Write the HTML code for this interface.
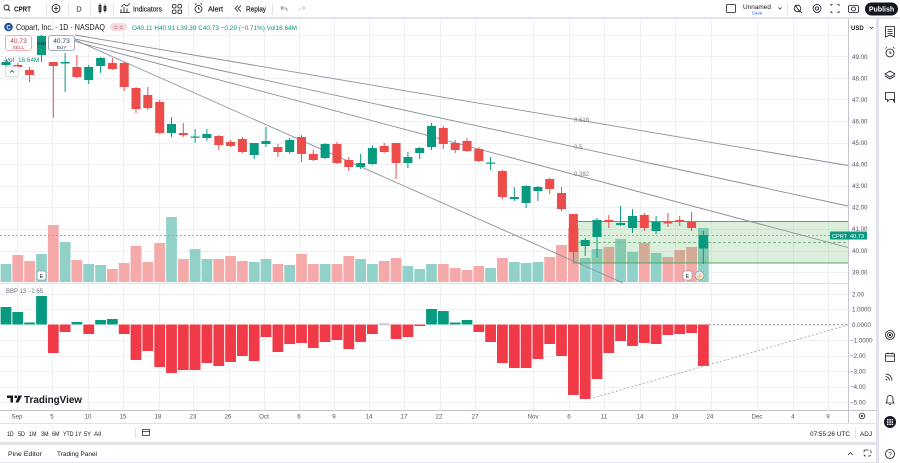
<!DOCTYPE html>
<html><head><meta charset="utf-8">
<style>
html,body{margin:0;padding:0;background:#fff;}
svg{display:block;font-family:"Liberation Sans",sans-serif;}
</style></head><body>
<svg width="900" height="463" viewBox="0 0 900 463" xmlns="http://www.w3.org/2000/svg">
<rect x="0" y="0" width="900" height="463" fill="#fff"/>
<!-- panel gaps -->
<rect x="0" y="17" width="900" height="2" fill="#e0e3eb"/>
<rect x="876" y="19" width="3" height="444" fill="#e0e3eb"/>
<rect x="0" y="442" width="876" height="3" fill="#e0e3eb"/>
<rect x="0" y="462" width="876" height="1" fill="#e0e3eb"/>

<!-- grid -->
<g stroke="#eef0f4" stroke-width="1">
<path d="M0 35.5H848M0 56.5H848M0 78.5H848M0 99.5H848M0 121.5H848M0 143.5H848M0 164.5H848M0 186.5H848M0 207.5H848M0 229.5H848M0 251.5H848M0 272.5H848"/>
<path d="M0 294.5H848M0 309.5H848M0 325.5H848M0 340.5H848M0 356.5H848M0 371.5H848M0 387.5H848M0 402.5H848"/>
<path d="M17.5 19V410M52.5 19V410M88.5 19V410M123.5 19V410M159.5 19V410M193.5 19V410M229.5 19V410M264.5 19V410M299.5 19V410M334.5 19V410M369.5 19V410M404.5 19V410M440.5 19V410M475.5 19V410M533.5 19V410M569.5 19V410M604.5 19V410M640.5 19V410M675.5 19V410M711.5 19V410M757.5 19V410M793.5 19V410M828.5 19V410"/>
</g>

<!-- volume -->
<g fill="#92d1ca">
<rect x="0.6" y="264" width="10.8" height="18"/><rect x="36.1" y="254" width="10.8" height="28"/><rect x="59.7" y="242" width="10.8" height="40"/><rect x="83.3" y="264" width="10.8" height="18"/><rect x="95.2" y="265" width="10.8" height="17"/><rect x="166.1" y="217" width="10.8" height="65"/><rect x="189.7" y="249" width="10.8" height="33"/><rect x="201.5" y="259" width="10.8" height="23"/><rect x="248.8" y="262" width="10.8" height="20"/><rect x="260.6" y="259" width="10.8" height="23"/><rect x="284.3" y="265" width="10.8" height="17"/><rect x="319.7" y="264" width="10.8" height="18"/><rect x="355.2" y="259" width="10.8" height="23"/><rect x="367.0" y="264" width="10.8" height="18"/><rect x="402.5" y="266" width="10.8" height="16"/><rect x="414.3" y="269" width="10.8" height="13"/><rect x="426.1" y="264" width="10.8" height="18"/><rect x="485.2" y="268" width="10.8" height="14"/><rect x="508.9" y="262" width="10.8" height="20"/><rect x="520.7" y="263" width="10.8" height="19"/><rect x="532.5" y="262" width="10.8" height="20"/><rect x="579.8" y="258" width="10.8" height="24"/><rect x="591.6" y="249" width="10.8" height="33"/><rect x="615.2" y="239" width="10.8" height="43"/><rect x="627.1" y="252" width="10.8" height="30"/><rect x="650.7" y="253" width="10.8" height="29"/><rect x="698.0" y="228" width="10.8" height="54"/>
</g>
<g fill="#f5a9a8">
<rect x="12.4" y="255" width="10.8" height="27"/><rect x="24.2" y="261" width="10.8" height="21"/><rect x="47.9" y="225" width="10.8" height="57"/><rect x="71.5" y="260" width="10.8" height="22"/><rect x="107.0" y="269" width="10.8" height="13"/><rect x="118.8" y="263" width="10.8" height="19"/><rect x="130.6" y="246" width="10.8" height="36"/><rect x="142.4" y="262" width="10.8" height="20"/><rect x="154.3" y="243" width="10.8" height="39"/><rect x="177.9" y="259" width="10.8" height="23"/><rect x="213.4" y="259" width="10.8" height="23"/><rect x="225.2" y="256" width="10.8" height="26"/><rect x="237.0" y="261" width="10.8" height="21"/><rect x="272.5" y="264" width="10.8" height="18"/><rect x="296.1" y="254" width="10.8" height="28"/><rect x="307.9" y="264" width="10.8" height="18"/><rect x="331.6" y="264" width="10.8" height="18"/><rect x="343.4" y="256" width="10.8" height="26"/><rect x="378.8" y="261" width="10.8" height="21"/><rect x="390.7" y="258" width="10.8" height="24"/><rect x="437.9" y="264" width="10.8" height="18"/><rect x="449.8" y="268" width="10.8" height="14"/><rect x="461.6" y="270" width="10.8" height="12"/><rect x="473.4" y="266" width="10.8" height="16"/><rect x="497.0" y="258" width="10.8" height="24"/><rect x="544.3" y="257" width="10.8" height="25"/><rect x="556.1" y="245" width="10.8" height="37"/><rect x="568.0" y="228" width="10.8" height="54"/><rect x="603.4" y="247" width="10.8" height="35"/><rect x="638.9" y="243" width="10.8" height="39"/><rect x="662.5" y="257" width="10.8" height="25"/><rect x="674.3" y="250" width="10.8" height="32"/><rect x="686.2" y="247" width="10.8" height="35"/>
</g>

<!-- rectangle drawing -->
<rect x="573.5" y="221.5" width="275" height="41.5" fill="rgba(76,175,80,0.2)" stroke="#5aa862" stroke-width="1"/>
<line x1="573" y1="242.5" x2="848" y2="242.5" stroke="#7fb886" stroke-width="1" stroke-dasharray="3,2"/>
<!-- current price line -->
<line x1="0" y1="235.5" x2="848" y2="235.5" stroke="#a5a8b0" stroke-width="1" stroke-dasharray="2,2"/>

<!-- fan lines -->
<g stroke="#8c8f98" stroke-width="0.9" fill="none">
<line x1="75" y1="35" x2="848" y2="165.5"/>
<line x1="75" y1="39" x2="848" y2="206"/>
<line x1="75" y1="41.5" x2="848" y2="247.5"/>
<line x1="75" y1="40" x2="623" y2="283"/>
</g>
<g font-size="6" fill="#787b86">
<text x="574" y="122">0.618</text>
<text x="574" y="149">0.5</text>
<text x="574" y="176">0.382</text>
</g>

<!-- candles -->
<g fill="#ec4c4a">
<rect x="17.3" y="63" width="1" height="6"/><rect x="13.3" y="65" width="9" height="2"/>
<rect x="29.1" y="67" width="1" height="15"/><rect x="25.1" y="70" width="9" height="5"/>
<rect x="52.8" y="62" width="1" height="56"/><rect x="48.8" y="62" width="9" height="4"/>
<rect x="76.4" y="55" width="1" height="23"/><rect x="72.4" y="67" width="9" height="10"/>
<rect x="111.9" y="58" width="1" height="12"/><rect x="107.9" y="63" width="9" height="6"/>
<rect x="123.7" y="62" width="1" height="29"/><rect x="119.7" y="63" width="9" height="24"/>
<rect x="135.5" y="87" width="1" height="26"/><rect x="131.5" y="88" width="9" height="21"/>
<rect x="147.3" y="87" width="1" height="23"/><rect x="143.3" y="95" width="9" height="13"/>
<rect x="159.2" y="100" width="1" height="34"/><rect x="155.2" y="102" width="9" height="31"/>
<rect x="182.8" y="123" width="1" height="14"/><rect x="178.8" y="133" width="9" height="2"/>
<rect x="218.3" y="135" width="1" height="15"/><rect x="214.3" y="136" width="9" height="9"/>
<rect x="230.1" y="140" width="1" height="7"/><rect x="226.1" y="142" width="9" height="4"/>
<rect x="241.9" y="137" width="1" height="16"/><rect x="237.9" y="139" width="9" height="13"/>
<rect x="277.4" y="144" width="1" height="13"/><rect x="273.4" y="147" width="9" height="5"/>
<rect x="301" y="135" width="1" height="27"/><rect x="297" y="137" width="9" height="17"/>
<rect x="312.8" y="150" width="1" height="11"/><rect x="308.8" y="154" width="9" height="6"/>
<rect x="336.5" y="142" width="1" height="22"/><rect x="332.5" y="144" width="9" height="19"/>
<rect x="348.3" y="157" width="1" height="14"/><rect x="344.3" y="160" width="9" height="7"/>
<rect x="383.7" y="143" width="1" height="10"/><rect x="379.7" y="146" width="9" height="6"/>
<rect x="395.6" y="143" width="1" height="36"/><rect x="391.6" y="143" width="9" height="20"/>
<rect x="442.8" y="126" width="1" height="23"/><rect x="438.8" y="128" width="9" height="16"/>
<rect x="454.7" y="140" width="1" height="13"/><rect x="450.7" y="143" width="9" height="7"/>
<rect x="466.5" y="138" width="1" height="14"/><rect x="462.5" y="141" width="9" height="10"/>
<rect x="478.3" y="147" width="1" height="15"/><rect x="474.3" y="149" width="9" height="12"/>
<rect x="501.9" y="170" width="1" height="29"/><rect x="497.9" y="171" width="9" height="26"/>
<rect x="549.2" y="178" width="1" height="16"/><rect x="545.2" y="179" width="9" height="10"/>
<rect x="561" y="187" width="1" height="24"/><rect x="557" y="193" width="9" height="16"/>
<rect x="572.9" y="214" width="1" height="46"/><rect x="568.9" y="214" width="9" height="38"/>
<rect x="608.3" y="215" width="1" height="13"/><rect x="604.3" y="220" width="9" height="2"/>
<rect x="643.8" y="213" width="1" height="18"/><rect x="639.8" y="215" width="9" height="13"/>
<rect x="667.4" y="213" width="1" height="14"/><rect x="663.4" y="222" width="9" height="1.5"/>
<rect x="679.2" y="216" width="1" height="10"/><rect x="675.2" y="220" width="9" height="1.5"/>
<rect x="691.1" y="212" width="1" height="19"/><rect x="687.1" y="222" width="9" height="6"/>
</g>
<g fill="#089981">
<rect x="5.5" y="60" width="1" height="7"/><rect x="1.5" y="62" width="9" height="3"/>
<rect x="41" y="35" width="1" height="27"/><rect x="37" y="36" width="9" height="19"/>
<rect x="64.6" y="53" width="1" height="39"/><rect x="60.6" y="62" width="9" height="1.5"/>
<rect x="88.2" y="65" width="1" height="19"/><rect x="84.2" y="67" width="9" height="13"/>
<rect x="100.1" y="57" width="1" height="16"/><rect x="96.1" y="58" width="9" height="8"/>
<rect x="171" y="117" width="1" height="20"/><rect x="167" y="124" width="9" height="9"/>
<rect x="194.6" y="129" width="1" height="14"/><rect x="190.6" y="136.5" width="9" height="1.2"/>
<rect x="206.4" y="129" width="1" height="12"/><rect x="202.4" y="134" width="9" height="4"/>
<rect x="253.7" y="143" width="1" height="16"/><rect x="249.7" y="143" width="9" height="12"/>
<rect x="265.5" y="127" width="1" height="20"/><rect x="261.5" y="141" width="9" height="3"/>
<rect x="289.2" y="138" width="1" height="16"/><rect x="285.2" y="140" width="9" height="12"/>
<rect x="324.6" y="143" width="1" height="16"/><rect x="320.6" y="144" width="9" height="14"/>
<rect x="360.1" y="154" width="1" height="15"/><rect x="356.1" y="163" width="9" height="4"/>
<rect x="371.9" y="145" width="1" height="20"/><rect x="367.9" y="148" width="9" height="16"/>
<rect x="407.4" y="152" width="1" height="16"/><rect x="403.4" y="157" width="9" height="6"/>
<rect x="419.2" y="147" width="1" height="12"/><rect x="415.2" y="148" width="9" height="5"/>
<rect x="431" y="123" width="1" height="27"/><rect x="427" y="126" width="9" height="21"/>
<rect x="490.1" y="157" width="1" height="13"/><rect x="486.1" y="162.5" width="9" height="1.2"/>
<rect x="513.8" y="187" width="1" height="14"/><rect x="509.8" y="197" width="9" height="2"/>
<rect x="525.6" y="185" width="1" height="23"/><rect x="521.6" y="186" width="9" height="17"/>
<rect x="537.4" y="186" width="1" height="15"/><rect x="533.4" y="187" width="9" height="4"/>
<rect x="584.7" y="238" width="1" height="18"/><rect x="580.7" y="240" width="9" height="6"/>
<rect x="596.5" y="218" width="1" height="39"/><rect x="592.5" y="220" width="9" height="17"/>
<rect x="620.1" y="206" width="1" height="20"/><rect x="616.1" y="223" width="9" height="2"/>
<rect x="632" y="209" width="1" height="24"/><rect x="628" y="216" width="9" height="12"/>
<rect x="655.6" y="216" width="1" height="18"/><rect x="651.6" y="222" width="9" height="9"/>
<rect x="702.9" y="231" width="1" height="33"/><rect x="698.9" y="235" width="9" height="13.5"/>
</g>

<!-- earnings markers -->
<g font-size="5.5" text-anchor="middle" fill="#131722">
<rect x="37" y="271" width="9" height="9" rx="2" fill="#fff" stroke="#9598a1" stroke-width="0.8"/><text x="41.5" y="278">E</text>
<rect x="683" y="271" width="9" height="9" rx="2" fill="#fff" stroke="#9598a1" stroke-width="0.8"/><text x="687.5" y="278">E</text>
<circle cx="699.5" cy="275.5" r="4.5" fill="#e8e6f5" stroke="#9598a1" stroke-width="0.8"/><text x="699.5" y="278" fill="#6a5acd">⚡</text>
</g>

<!-- pane separator -->
<line x1="0" y1="283.5" x2="848" y2="283.5" stroke="#e0e3eb" stroke-width="1"/>

<!-- BBP -->
<g fill="#089981">
<rect x="0.6" y="307" width="10.8" height="17.5"/><rect x="12.4" y="312" width="10.8" height="12.5"/><rect x="24.2" y="322.5" width="10.8" height="2"/><rect x="36.1" y="296" width="10.8" height="28.5"/><rect x="71.5" y="322" width="10.8" height="2.5"/><rect x="95.2" y="320" width="10.8" height="4.5"/><rect x="107.0" y="319" width="10.8" height="5.5"/><rect x="426.1" y="309" width="10.8" height="15.5"/><rect x="437.9" y="311" width="10.8" height="13.5"/><rect x="449.8" y="322.5" width="10.8" height="2"/><rect x="461.6" y="320" width="10.8" height="4.5"/>
</g>
<rect x="378.8" y="323.5" width="10.8" height="1.2" fill="#b2b5be"/>
<g fill="#f03a48">
<rect x="47.9" y="324.5" width="10.8" height="28.5"/><rect x="59.7" y="324.5" width="10.8" height="7.5"/><rect x="83.3" y="324.5" width="10.8" height="9.5"/><rect x="118.8" y="324.5" width="10.8" height="9.5"/><rect x="130.6" y="324.5" width="10.8" height="35.5"/><rect x="142.4" y="324.5" width="10.8" height="26.5"/><rect x="154.3" y="324.5" width="10.8" height="42.5"/><rect x="166.1" y="324.5" width="10.8" height="48.5"/><rect x="177.9" y="324.5" width="10.8" height="45.5"/><rect x="189.7" y="324.5" width="10.8" height="45.5"/><rect x="201.5" y="324.5" width="10.8" height="38.5"/><rect x="213.4" y="324.5" width="10.8" height="41.5"/><rect x="225.2" y="324.5" width="10.8" height="37.5"/><rect x="237.0" y="324.5" width="10.8" height="31.5"/><rect x="248.8" y="324.5" width="10.8" height="36.5"/><rect x="260.6" y="324.5" width="10.8" height="12.5"/><rect x="272.5" y="324.5" width="10.8" height="27.5"/><rect x="284.3" y="324.5" width="10.8" height="19.5"/><rect x="296.1" y="324.5" width="10.8" height="18.5"/><rect x="307.9" y="324.5" width="10.8" height="23.5"/><rect x="319.7" y="324.5" width="10.8" height="17.5"/><rect x="331.6" y="324.5" width="10.8" height="15.5"/><rect x="343.4" y="324.5" width="10.8" height="24.5"/><rect x="355.2" y="324.5" width="10.8" height="17.5"/><rect x="367.0" y="324.5" width="10.8" height="9.5"/><rect x="390.7" y="324.5" width="10.8" height="14.5"/><rect x="402.5" y="324.5" width="10.8" height="12.5"/><rect x="414.3" y="324.5" width="10.8" height="1.5"/><rect x="473.4" y="324.5" width="10.8" height="7.5"/><rect x="485.2" y="324.5" width="10.8" height="17.5"/><rect x="497.0" y="324.5" width="10.8" height="38.5"/><rect x="508.9" y="324.5" width="10.8" height="43.5"/><rect x="520.7" y="324.5" width="10.8" height="43.5"/><rect x="532.5" y="324.5" width="10.8" height="34.5"/><rect x="544.3" y="324.5" width="10.8" height="19.5"/><rect x="556.1" y="324.5" width="10.8" height="31.5"/><rect x="568.0" y="324.5" width="10.8" height="70.5"/><rect x="579.8" y="324.5" width="10.8" height="74.5"/><rect x="591.6" y="324.5" width="10.8" height="54.5"/><rect x="603.4" y="324.5" width="10.8" height="28.5"/><rect x="615.2" y="324.5" width="10.8" height="16.5"/><rect x="627.1" y="324.5" width="10.8" height="21.5"/><rect x="638.9" y="324.5" width="10.8" height="18.5"/><rect x="650.7" y="324.5" width="10.8" height="19.5"/><rect x="662.5" y="324.5" width="10.8" height="10.5"/><rect x="674.3" y="324.5" width="10.8" height="9.5"/><rect x="686.2" y="324.5" width="10.8" height="8.5"/><rect x="698.0" y="324.5" width="10.8" height="41.5"/>
</g>
<g stroke="#a5a8b0" stroke-width="0.9" stroke-dasharray="2,2">
<line x1="709" y1="324.5" x2="848" y2="324.5"/>
<line x1="589" y1="399" x2="848" y2="325"/>
</g>
<text x="6" y="293" font-size="6" fill="#6a6d78">BBP 13  −2.65</text>

<!-- TradingView logo -->
<path d="M7 395.5h6v7h-2.5v-4.5H7z M14.5 395.5h2.5v2.5h-2.5z M18.5 395.5h3.5l-3.5 7h-3z" fill="#131722"/>
<text x="24" y="403" font-size="10.5" font-weight="bold" fill="#131722" textLength="58" lengthAdjust="spacingAndGlyphs">TradingView</text>

<!-- axes -->
<line x1="848.5" y1="19" x2="848.5" y2="423" stroke="#c3c6ce" stroke-width="1"/>
<line x1="0" y1="410.5" x2="876" y2="410.5" stroke="#c3c6ce" stroke-width="1"/>
<line x1="0" y1="423.5" x2="876" y2="423.5" stroke="#e0e3eb" stroke-width="1"/>
<g font-size="6.2" fill="#50535e">
<text x="852" y="59">49.00</text><text x="852" y="80.5">48.00</text><text x="852" y="102">47.00</text><text x="852" y="123.5">46.00</text><text x="852" y="145">45.00</text><text x="852" y="166.5">44.00</text><text x="852" y="188">43.00</text><text x="852" y="209.5">42.00</text><text x="852" y="231">41.00</text><text x="852" y="253">40.00</text><text x="852" y="274.5">39.00</text>
<text x="852" y="296.5">2.00</text><text x="852" y="311.5">1.0000</text><text x="852" y="327">0.0000</text><text x="850" y="342.5">−1.0000</text><text x="850" y="358">−2.00</text><text x="850" y="373.5">−3.00</text><text x="850" y="389">−4.00</text><text x="850" y="404.5">−5.00</text>
</g>
<!-- USD box -->
<rect x="849" y="20" width="26" height="14" fill="#fff"/>
<text x="851" y="30" font-size="6" font-weight="bold" fill="#131722">USD</text>
<path d="M870 27l1.5 1.5 1.5-1.5" stroke="#131722" stroke-width="0.7" fill="none"/>
<!-- CPRT price label -->
<rect x="830" y="231.5" width="37" height="8" rx="1" fill="#089981"/>
<text x="832" y="237.8" font-size="5.6" fill="#fff">CPRT</text>
<text x="850" y="237.8" font-size="5.6" fill="#fff">40.73</text>

<!-- x labels -->
<g font-size="6.2" fill="#50535e" text-anchor="middle">
<text x="17" y="418.5">Sep</text><text x="52" y="418.5">5</text><text x="88" y="418.5">10</text><text x="123" y="418.5">15</text><text x="158" y="418.5">18</text><text x="193" y="418.5">23</text><text x="228" y="418.5">26</text><text x="264" y="418.5">Oct</text><text x="299" y="418.5">6</text><text x="334" y="418.5">9</text><text x="369" y="418.5">14</text><text x="404" y="418.5">17</text><text x="439" y="418.5">22</text><text x="475" y="418.5">27</text><text x="533" y="418.5">Nov</text><text x="569" y="418.5">6</text><text x="604" y="418.5">11</text><text x="640" y="418.5">14</text><text x="675" y="418.5">19</text><text x="710" y="418.5">24</text><text x="757" y="418.5">Dec</text><text x="793" y="418.5">4</text><text x="828" y="418.5">9</text>
</g>
<circle cx="862" cy="416" r="2.8" fill="none" stroke="#131722" stroke-width="0.7"/><circle cx="862" cy="416" r="1" fill="#131722"/>

<!-- range row -->
<g font-size="6.6" fill="#131722">
<text x="7" y="436" textLength="6.5" lengthAdjust="spacingAndGlyphs">1D</text>
<text x="18" y="436" textLength="7" lengthAdjust="spacingAndGlyphs">5D</text>
<text x="29" y="436" textLength="7.5" lengthAdjust="spacingAndGlyphs">1M</text>
<text x="41" y="436" textLength="7.5" lengthAdjust="spacingAndGlyphs">3M</text>
<text x="52" y="436" textLength="7.5" lengthAdjust="spacingAndGlyphs">6M</text>
<text x="63" y="436" textLength="10.5" lengthAdjust="spacingAndGlyphs">YTD</text>
<text x="75" y="436" textLength="6.5" lengthAdjust="spacingAndGlyphs">1Y</text>
<text x="84" y="436" textLength="7" lengthAdjust="spacingAndGlyphs">5Y</text>
<text x="94" y="436" textLength="7" lengthAdjust="spacingAndGlyphs">All</text>
<text x="810" y="436" font-size="6.4" textLength="40" lengthAdjust="spacingAndGlyphs">07:55:26 UTC</text>
<text x="860" y="436" font-size="6.4" textLength="12" lengthAdjust="spacingAndGlyphs">ADJ</text>
</g>
<line x1="135.5" y1="428" x2="135.5" y2="438" stroke="#e0e3eb"/>
<line x1="855.5" y1="428" x2="855.5" y2="438" stroke="#e0e3eb"/>
<rect x="142.5" y="429.5" width="7" height="6" fill="none" stroke="#131722" stroke-width="0.7"/>
<line x1="142.5" y1="431.5" x2="149.5" y2="431.5" stroke="#131722" stroke-width="0.7"/>

<!-- bottom panel -->
<g font-size="6.6" fill="#131722">
<text x="8" y="456" textLength="34" lengthAdjust="spacingAndGlyphs">Pine Editor</text>
<text x="57" y="456" textLength="40" lengthAdjust="spacingAndGlyphs">Trading Panel</text>
</g>
<path d="M848 455l2.5-2.5 2.5 2.5" stroke="#131722" stroke-width="0.7" fill="none"/>
<rect x="864" y="450" width="7" height="6" rx="1.5" fill="none" stroke="#131722" stroke-width="0.7" stroke-dasharray="3,2"/>

<!-- top toolbar -->
<circle cx="6.5" cy="7.5" r="2.5" fill="none" stroke="#131722" stroke-width="0.9"/><line x1="8.3" y1="9.3" x2="10" y2="11" stroke="#131722" stroke-width="0.9"/>
<text x="14" y="11.5" font-size="7.5" font-weight="bold" fill="#131722" textLength="17" lengthAdjust="spacingAndGlyphs">CPRT</text>
<g stroke="#e0e3eb"><line x1="46.5" y1="3" x2="46.5" y2="15"/><line x1="68.5" y1="3" x2="68.5" y2="15"/><line x1="90.5" y1="3" x2="90.5" y2="15"/><line x1="113.5" y1="3" x2="113.5" y2="15"/><line x1="188.5" y1="3" x2="188.5" y2="15"/><line x1="272.5" y1="3" x2="272.5" y2="15"/><line x1="787.5" y1="3" x2="787.5" y2="15"/></g>
<circle cx="56" cy="8.5" r="4" fill="none" stroke="#131722" stroke-width="0.8"/><path d="M56 6.3v4.4M53.8 8.5h4.4" stroke="#131722" stroke-width="0.8"/>
<text x="79" y="11.3" font-size="7.5" fill="#131722" text-anchor="middle">D</text>
<g stroke="#131722" stroke-width="0.8" fill="none"><rect x="99" y="5.5" width="2" height="6"/><line x1="100" y1="3.5" x2="100" y2="13.5"/><rect x="104" y="6.5" width="2" height="4"/><line x1="105" y1="4.5" x2="105" y2="12.5"/></g>
<g stroke="#131722" stroke-width="0.8" fill="none"><path d="M120 12.5h10M121 12.5V9M124 12.5V7M127 12.5V8.5M121 7l3-2.5 3 1.5 3-2.5"/></g>
<text x="133" y="11.3" font-size="7.5" fill="#131722" stroke="#131722" stroke-width="0.15" textLength="29" lengthAdjust="spacingAndGlyphs">Indicators</text>
<g stroke="#131722" stroke-width="0.8" fill="none"><rect x="172.5" y="4.5" width="3.5" height="3.5" rx="1"/><rect x="178" y="4.5" width="3.5" height="3.5" rx="1"/><rect x="172.5" y="10" width="3.5" height="3.5" rx="1"/><rect x="178" y="10" width="3.5" height="3.5" rx="1"/></g>
<g stroke="#131722" stroke-width="0.8" fill="none"><circle cx="198.5" cy="9" r="3.5"/><path d="M198.5 7v2h1.5M195 4.5l1.5-1M202 4.5l-1.5-1"/></g>
<text x="208" y="11.3" font-size="7.5" fill="#131722" stroke="#131722" stroke-width="0.15" textLength="15" lengthAdjust="spacingAndGlyphs">Alert</text>
<g stroke="#131722" stroke-width="0.8" fill="none"><path d="M238 5.5l-3 3 3 3M241 5.5l-3 3 3 3"/></g>
<text x="246" y="11.3" font-size="7.5" fill="#131722" stroke="#131722" stroke-width="0.15" textLength="20" lengthAdjust="spacingAndGlyphs">Replay</text>
<path d="M283 6l-2 2 2 2M281 8h4a2 2 0 0 1 2 2v1" stroke="#787b86" stroke-width="0.8" fill="none"/>
<path d="M303 6l2 2-2 2M305 8h-4a2 2 0 0 0-2 2v1" stroke="#c3c6ce" stroke-width="0.8" fill="none"/>
<!-- right toolbar -->
<rect x="726.5" y="4.5" width="9" height="8" rx="1" fill="none" stroke="#131722" stroke-width="0.8"/>
<text x="743" y="9" font-size="6.8" fill="#131722" textLength="28" lengthAdjust="spacingAndGlyphs">Unnamed</text>
<text x="757" y="14.5" font-size="4.6" fill="#2962ff" text-anchor="middle">Save</text>
<path d="M778.5 7.5l1.5 1.5 1.5-1.5" stroke="#131722" stroke-width="0.7" fill="none"/>
<g stroke="#131722" stroke-width="0.8" fill="none">
<circle cx="797.5" cy="8.5" r="3.3"/><path d="M800 11l2 2M795 5l5 7"/>
<circle cx="817" cy="8.5" r="4"/><circle cx="817" cy="8.5" r="1.6"/>
<path d="M831 6V4.5h1.5M837.5 4.5H839V6M839 11v1.5h-1.5M832.5 12.5H831V11"/>
<rect x="848.5" y="5.5" width="10" height="7" rx="1.5"/><circle cx="853.5" cy="9" r="2"/>
</g>
<rect x="865" y="2.5" width="33" height="13" rx="6.5" fill="#131722"/>
<text x="881.5" y="11.5" font-size="7" font-weight="bold" fill="#fff" text-anchor="middle">Publish</text>

<!-- right sidebar -->
<g stroke="#131722" stroke-width="0.8" fill="none">
<path d="M885.5 26.5h9v10.5l-4.5-2-4.5 2zM887.5 29.5h5M887.5 31.5h5M887.5 33.5h5"/>
<circle cx="890" cy="53" r="4"/><path d="M890 51v2.2h1.6M885.5 48.5l1.5-1.2M894.5 48.5l-1.5-1.2"/>
<path d="M890 71l5 3-5 3-5-3z M885 76l5 3 5-3"/>
<path d="M885.5 92.5h9v7h-5l-2 2v-2h-2z M893 99.5l1.5 2.5v-4"/>
<circle cx="890" cy="335" r="4.5"/><circle cx="890" cy="335" r="2.5"/><circle cx="890" cy="335" r="0.8" fill="#131722"/>
<rect x="885.5" y="353.5" width="9" height="8" rx="1"/><path d="M885.5 356h9M888 352.5v2M892 352.5v2"/>
<path d="M885.5 374a6.5 6.5 0 0 1 6.5 6.5M885.5 376.5a4 4 0 0 1 4 4M885.5 379a1.5 1.5 0 0 1 1.5 1.5"/>
<path d="M886 403h8l-1-1.5v-3a3 3 0 0 0-6 0v3zM889 404.5h2"/>
<circle cx="890" cy="454" r="4.5"/>
</g>
<circle cx="890" cy="422" r="6" fill="#131722"/>
<g fill="#fff"><rect x="887" y="419" width="1.5" height="1.5"/><rect x="889.3" y="419" width="1.5" height="1.5"/><rect x="891.6" y="419" width="1.5" height="1.5"/><rect x="887" y="421.3" width="1.5" height="1.5"/><rect x="889.3" y="421.3" width="1.5" height="1.5"/><rect x="891.6" y="421.3" width="1.5" height="1.5"/><rect x="887" y="423.6" width="1.5" height="1.5"/><rect x="889.3" y="423.6" width="1.5" height="1.5"/><rect x="891.6" y="423.6" width="1.5" height="1.5"/></g>
<text x="890" y="456.5" font-size="6.5" fill="#131722" text-anchor="middle">?</text>

<!-- legend -->
<circle cx="8.5" cy="27" r="4.3" fill="#1f4e9c"/>
<text x="8.5" y="29.3" font-size="6" font-weight="bold" fill="#fff" text-anchor="middle">C</text>
<text x="16" y="30" font-size="8.3" fill="#131722" textLength="89" lengthAdjust="spacingAndGlyphs">Copart, Inc. · 1D · NASDAQ</text>
<rect x="110" y="23" width="17" height="8" rx="4" fill="#f7d9de"/>
<text x="118.5" y="29.5" font-size="6.5" fill="#9a5566" text-anchor="middle">= =</text>
<text x="132" y="30" font-size="6.6" fill="#089981" textLength="165" lengthAdjust="spacingAndGlyphs">O40.11 H40.91 L39.39 C40.73 −0.29 (−0.71%) Vol16.64M</text>

<!-- sell / buy -->
<rect x="5.5" y="35.5" width="26" height="15" rx="2.5" fill="#fff" stroke="#e89aa2" stroke-width="0.8"/>
<text x="18.5" y="43" font-size="6.6" fill="#c8323f" text-anchor="middle">40.73</text>
<text x="18.5" y="49" font-size="4.8" fill="#c8323f" text-anchor="middle">SELL</text>
<text x="41.5" y="45" font-size="4.6" fill="#131722" text-anchor="middle">0.00</text>
<rect x="48.5" y="35.5" width="26" height="15" rx="2.5" fill="#fff" stroke="#8b96ab" stroke-width="0.8"/>
<text x="61.5" y="43" font-size="6.6" fill="#2a3f66" text-anchor="middle">40.73</text>
<text x="61.5" y="49" font-size="4.8" fill="#2a3f66" text-anchor="middle">BUY</text>
<!-- vol label -->
<text x="3" y="62" font-size="6.4" fill="#50535e">-Vol</text>
<text x="18" y="62" font-size="6.4" fill="#089981">16.64M</text>
<rect x="5.5" y="66.5" width="13" height="10" rx="1.5" fill="#fff" stroke="#d1d4dc" stroke-width="0.7"/>
<path d="M10 72.5l2-2 2 2" stroke="#131722" stroke-width="0.7" fill="none"/>
</svg>
</body></html>
